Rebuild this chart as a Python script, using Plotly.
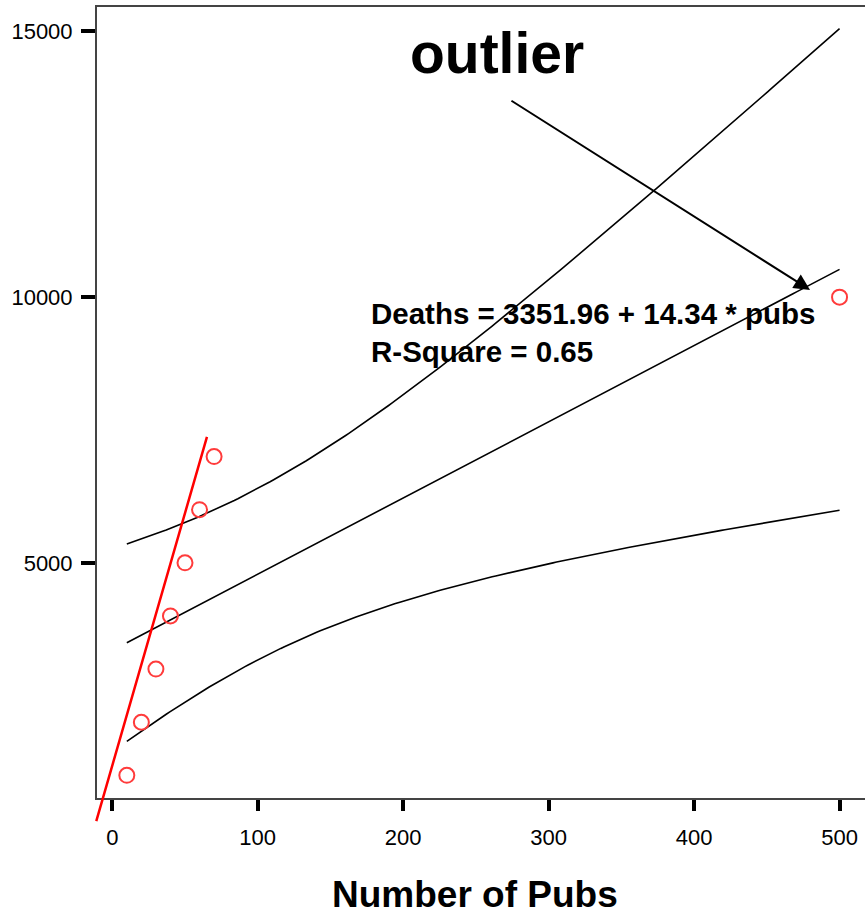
import numpy as np
import plotly.graph_objects as go

# Observations: number of pubs vs. deaths
pubs = [10, 20, 30, 40, 50, 60, 70, 500]
deaths = [1000, 2000, 3000, 4000, 5000, 6000, 7000, 10000]

# Stated least-squares fit
fit_intercept = 3351.96
fit_slope = 14.34
r_square = 0.65

# Hand-drawn trend line through the cluster of small values (start, end)
trend_x = [-11.3, 65.1]
trend_y = [110, 7370]

# "outlier" call-out arrow (tail, head)
callout_x = [273.4, 479.7]
callout_y = [13714, 10136]

x_ticks = [0, 100, 200, 300, 400, 500]
x_tick_labels = ["0", "100", "200", "300", "400", "500"]
y_ticks = [5000, 10000, 15000]
y_tick_labels = ["5000", "10000", "15000"]

x_arr = np.array(pubs, dtype=float)
y_arr = np.array(deaths, dtype=float)
n = len(x_arr)

# 95% confidence band for the mean response
resid = y_arr - (fit_intercept + fit_slope * x_arr)
s = np.sqrt(np.sum(resid ** 2) / (n - 2))
x_mean = x_arr.mean()
sxx = np.sum((x_arr - x_mean) ** 2)
t_crit = 2.447  # t(0.975, df=6)
grid = np.linspace(x_arr.min(), x_arr.max(), 200)
fit = fit_intercept + fit_slope * grid
half = t_crit * s * np.sqrt(1.0 / n + (grid - x_mean) ** 2 / sxx)
upper = fit + half
lower = fit - half

fig = go.Figure()
line_style = dict(color="black", width=1.6)
for yy in (upper, fit, lower):
    fig.add_trace(go.Scatter(x=grid, y=yy, mode="lines", line=line_style,
                             hoverinfo="skip", showlegend=False))

fig.add_trace(go.Scatter(
    x=pubs, y=deaths, mode="markers", showlegend=False,
    marker=dict(symbol="circle-open", size=15, color="#ff3b3b",
                line=dict(width=2, color="#ff3b3b")),
    cliponaxis=False,
))

bold_font = "Liberation Sans, Arial, sans-serif"
annotations = [
    # red trend line (drawn as a headless arrow so it can run past the axes)
    dict(x=trend_x[1], y=trend_y[1], ax=trend_x[0], ay=trend_y[0],
         xref="x", yref="y", axref="x", ayref="y", text="",
         showarrow=True, arrowhead=0, arrowwidth=2.5, arrowcolor="#ff0000",
         standoff=0, startstandoff=0),
    # outlier arrow
    dict(x=callout_x[1], y=callout_y[1], ax=callout_x[0], ay=callout_y[0],
         xref="x", yref="y", axref="x", ayref="y", text="",
         showarrow=True, arrowhead=2, arrowsize=1.6, arrowwidth=2,
         arrowcolor="black", standoff=0, startstandoff=0),
    dict(x=264.5, y=14600, xref="x", yref="y", text="<b>outlier</b>",
         showarrow=False, xanchor="center", yanchor="middle",
         font=dict(family=bold_font, size=57, color="black")),
    dict(x=176.5, y=9684, xref="x", yref="y",
         text="<b>Deaths = %.2f + %.2f * pubs</b>" % (fit_intercept, fit_slope),
         showarrow=False, xanchor="left", yanchor="middle",
         font=dict(family=bold_font, size=29.5, color="black")),
    dict(x=176.5, y=8968, xref="x", yref="y",
         text="<b>R-Square = %.2f</b>" % r_square,
         showarrow=False, xanchor="left", yanchor="middle",
         font=dict(family=bold_font, size=29.5, color="black")),
    dict(x=249.4, y=-0.1505, xref="x", yref="paper", text="<b>Number of Pubs</b>",
         showarrow=False, xanchor="center", yanchor="bottom",
         font=dict(family=bold_font, size=37, color="black")),
]

tick_font = dict(family="Liberation Sans, Arial, sans-serif", size=22, color="black")

fig.update_layout(
    width=865, height=917,
    margin=dict(l=97, r=0, t=7, b=119),
    paper_bgcolor="white", plot_bgcolor="white",
    annotations=annotations,
    xaxis=dict(range=[-10.5, 517.5], tickvals=x_ticks, ticktext=x_tick_labels,
               ticks="outside", ticklen=11, tickwidth=3.5, tickcolor="black",
               showline=True, linecolor="#444444", linewidth=2, mirror=True,
               showgrid=False, zeroline=False, tickfont=tick_font,
               ticklabelstandoff=8),
    yaxis=dict(range=[574, 15460], tickvals=y_ticks, ticktext=y_tick_labels,
               ticks="outside", ticklen=14, tickwidth=3.5, tickcolor="black",
               showline=True, linecolor="#444444", linewidth=2,
               showgrid=False, zeroline=False, tickfont=tick_font,
               ticklabelstandoff=4),
)

fig.write_html("out.html")
